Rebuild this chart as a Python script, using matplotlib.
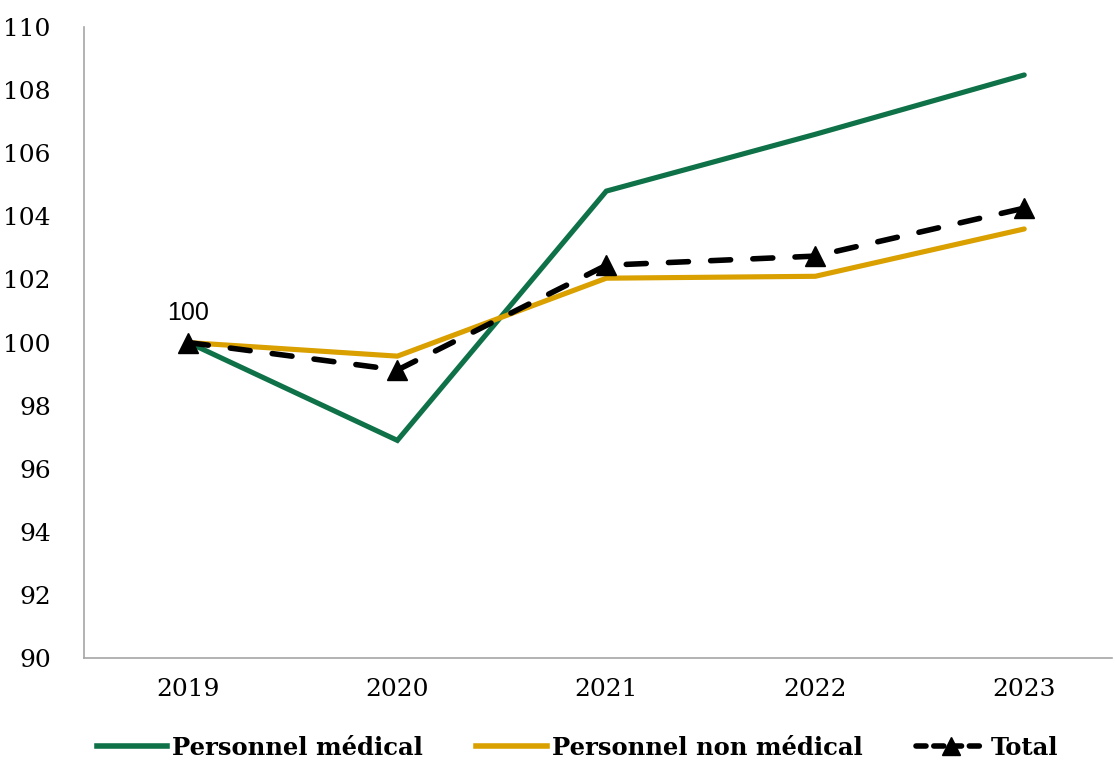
import matplotlib
matplotlib.use("Agg")
import matplotlib.pyplot as plt
from matplotlib.lines import Line2D

# index base 100 in 2019
years = ['2019', '2020', '2021', '2022', '2023']
medical = [100.0, 96.9, 104.8, 106.6, 108.48]
non_medical = [100.0, 99.57, 102.04, 102.1, 103.6]
total = [100.0, 99.13, 102.45, 102.74, 104.26]

green = '#0E7148'
gold = '#D9A000'

fig = plt.figure(figsize=(11.15, 7.6), dpi=100)
ax = fig.add_axes([0.0753, 0.134, 0.922, 0.8305])

x = range(len(years))
ax.plot(x, medical, color=green, lw=3.7, solid_capstyle='round', solid_joinstyle='miter', zorder=2)
ax.plot(x, non_medical, color=gold, lw=3.7, solid_capstyle='round', solid_joinstyle='miter', zorder=3)
ax.plot(x, total, color='black', lw=4, dashes=(3.6, 4), dash_capstyle='round',
        marker='^', markersize=15, zorder=4)

ax.annotate('100', (0, total[0]), xytext=(0, 13), textcoords='offset points',
            ha='center', va='bottom', fontsize=18, family='Liberation Sans')

ax.set_xlim(-0.5, 4.42)
ax.set_ylim(90, 110)
ax.set_yticks(range(90, 111, 2))
ax.set_xticks(list(x))
ax.set_xticklabels(years)

for s in ['top', 'right']:
    ax.spines[s].set_visible(False)
for s in ['left', 'bottom']:
    ax.spines[s].set_color('#A6A6A6')
    ax.spines[s].set_linewidth(1.2)

ax.tick_params(axis='y', length=0, pad=24, labelsize=18)
ax.tick_params(axis='x', length=0, pad=14, labelsize=18)
for lab in ax.get_xticklabels() + ax.get_yticklabels():
    lab.set_family('DejaVu Serif')

handles = [
    Line2D([], [], color=green, lw=4),
    Line2D([], [], color=gold, lw=4),
    Line2D([], [], color='black', lw=4, dashes=(1.8, 1.4), dash_capstyle='round',
           marker='^', markersize=13),
]
labels = ['Personnel médical', 'Personnel non médical', 'Total']
fig.legend(handles, labels, loc='center', bbox_to_anchor=(0.518, 0.016), ncol=3,
           frameon=False, handlelength=2.9, handletextpad=0.2, columnspacing=2.2,
           prop={'family': 'DejaVu Serif', 'weight': 'bold', 'size': 17.5})

fig.savefig('out.png', dpi=100)
